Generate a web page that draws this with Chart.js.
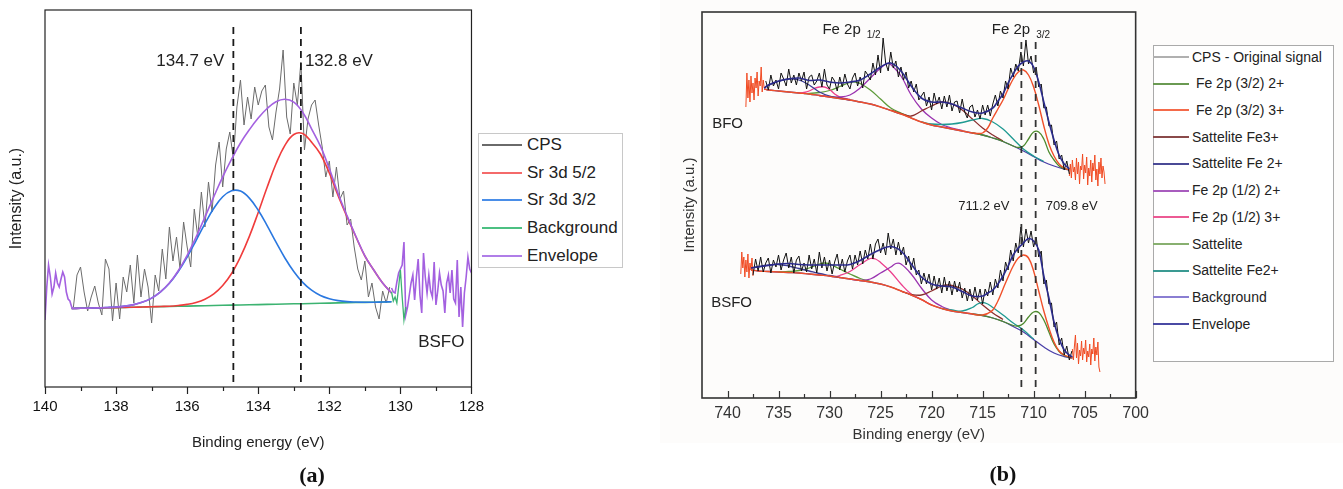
<!DOCTYPE html>
<html>
<head>
<meta charset="utf-8">
<script src="https://cdn.jsdelivr.net/npm/chart.js@4.4.1/dist/chart.umd.min.js"></script>
<style>
  body { margin: 0; background: #fff; font-family: 'Liberation Sans', Arial, sans-serif; }
  #page { position: relative; width: 1343px; height: 489px; overflow: hidden; background: #fff; }
  #tint { position: absolute; left: 660px; top: 0; width: 683px; height: 443px; background: #fdfcfb; }
  canvas { position: absolute; top: 0; }
  .legend { position: absolute; box-sizing: border-box; background: #fff; }
  .legend .sw { position: absolute; height: 2px; }
  .legend .tx { position: absolute; white-space: pre; color: #222; }
  .caption { position: absolute; width: 60px; text-align: center; font-family: 'Liberation Serif', 'DejaVu Serif', serif; font-weight: bold; font-size: 22px; color: #111; }
</style>
</head>
<body>
<div id="page">
  <div id="tint"></div>
  <canvas id="chartA" width="495" height="489" style="left:0"></canvas>
  <canvas id="chartB" width="485" height="489" style="left:670px"></canvas>
  <div id="legendA" class="legend" style="left:478px; top:133px; width:145px; height:135px; border:1px solid #c8c8c8;"></div>
  <div id="legendB" class="legend" style="left:1153px; top:45px; width:181px; height:317px; border:1px solid #aaa;"></div>
  <div class="caption" style="left:282px; top:462px;">(a)</div>
  <div class="caption" style="left:973px; top:461px;">(b)</div>
</div>
<script>
// ---------- panel (a): Sr 3d, BSFO ----------
const aTicks = [140, 138, 136, 134, 132, 130, 128];
const aMinor = [139, 137, 135, 133, 131, 129];
const aGrid = [139.25, 139, 138.75, 138.5, 138.25, 138, 137.75, 137.5, 137.25, 137, 136.75, 136.5, 136.25,
  136, 135.75, 135.5, 135.25, 135, 134.75, 134.5, 134.25, 134, 133.75, 133.5, 133.25, 133, 132.75, 132.5,
  132.25, 132, 131.75, 131.5, 131.25, 131, 130.75, 130.5, 130.25];
const aBackground = [78.5, 78.7, 78.9, 79.1, 79.2, 79.4, 79.6, 79.8, 80.0, 80.2, 80.4, 80.5, 80.7, 80.9, 81.1,
  81.3, 81.5, 81.7, 81.9, 82.0, 82.2, 82.4, 82.6, 82.8, 83.0, 83.2, 83.3, 83.5, 83.7, 83.9, 84.1, 84.3, 84.5,
  84.6, 84.8, 85.0, 85.2];
const aSr52 = [78.5, 78.7, 78.9, 79.1, 79.2, 79.4, 79.6, 79.8, 80.0, 80.2, 80.5, 80.8, 81.5, 82.6, 84.5, 87.8,
  93.1, 101.5, 113.5, 130.1, 150.6, 174.6, 199.7, 223.2, 241.7, 252.5, 253.4, 244.9, 233, 214, 191, 170, 150,
  131, 117, 104, 94];
const aSr32 = [78.5, 78.7, 78.9, 79.1, 79.5, 80.0, 80.9, 82.4, 84.9, 88.9, 95.1, 103.7, 115.5, 130.0, 146.4,
  163.4, 178.7, 190.3, 196.3, 195.9, 188.9, 176.8, 161.4, 144.8, 129.0, 115.5, 104.6, 96.8, 91.5, 88.3, 86.4,
  85.4, 85.0, 84.8, 84.8, 85.0, 85.2];
const aEnvelope = [78.5, 78.7, 78.9, 79.1, 79.5, 80.0, 80.9, 82.4, 84.9, 88.9, 95.2, 104.0, 116.3, 131.7, 149.8,
  169.9, 190.3, 210.1, 227.9, 244.0, 257.3, 269.0, 278.5, 285.2, 287.7, 284.8, 274.7, 258.2, 240.8, 218.4,
  193.3, 171.1, 150.5, 131.2, 117, 104, 94];
// raw counts, 139.2 -> 130.3 eV every 0.1 eV
const aCps = [80, 112, 120, 95, 76, 90, 101, 84, 72, 128, 118, 66, 104, 68, 110, 95, 122, 84, 132, 90,
  118, 100, 64, 112, 96, 138, 108, 160, 126, 150, 118, 165, 140, 120, 178, 150, 195, 160, 205, 175,
  222, 245, 200, 238, 255, 228, 280, 307, 262, 290, 268, 300, 282, 296, 302, 260, 247, 275, 298, 337,
  270, 253, 304, 282, 325, 237, 268, 282, 287, 262, 240, 210, 226, 190, 220, 188, 196, 162, 168, 140,
  118, 107, 126, 90, 104, 80, 68, 96, 84, 100];
// signal outside the fit window, every 0.05 eV
const aEdgeLeft = [67, 100, 122, 110, 93, 100, 114, 104, 100, 108, 115, 110, 95, 88, 86, 80, 78];   // 140.00 -> 139.20
const aEdgeRight = [99, 95, 94, 105, 114, 118, 122, 145, 72, 80, 92, 104, 112, 87, 110, 128, 92, 74, 134, 110,
  94, 112, 96, 90, 125, 82, 96, 114, 102, 96, 74, 104, 112, 94, 117, 88, 84, 127, 70, 100,
  60, 94, 110, 130, 118, 114];                                                                   // 130.25 -> 128.00
const aBgTail = [95, 86, 90, 84, 100, 117, 90, 67, 80];                                          // 130.25 -> 129.85
const aPeaks = [134.7, 132.8];

// ---------- panel (b): Fe 2p, BFO and BSFO ----------
const bTicks = [740, 735, 730, 725, 720, 715, 710, 705, 700];
const bMinor = [737.5, 732.5, 727.5, 722.5, 717.5, 712.5, 707.5, 702.5];
const bPeaks = [711.2, 709.8];

const bfoBackground = [[736.4,309],[736,308],[735,307],[734,306],[733,305],[732,304],[731,302.5],[730,301],
  [729,299.5],[728,298],[727,296],[726,294],[725,291],[724,287.5],[723,284],[722,280],[721,276],[720,273],
  [719,271],[718,269],[717,267],[716,265],[715,263],[714,260],[713,256.5],[712,252],[711,247],[710,241.5],
  [709,236],[708,232],[707,229],[706.5,228]];
const bfoFe32_3 = [[736.4,309],[736,308],[735,307],[734,306],[733,305],[732,304],[731,302.5],[730,301],
  [729,299.5],[728,298],[727,296],[726,294],[725,291],[724,287.5],[723,284],[722,280],[721,276],[720,273],
  [719,271],[718,269],[717,267],[716,265],[715.5,264.5],[715,265],[714.5,270],[714,280],[713.5,289],[713,298],
  [712.5,309],[712,319],[711.5,326],[711,328],[710.5,323],[710,311],[709.5,293],[709,272],[708.5,254],
  [708,242],[707.5,234],[707,230],[706.5,228]];
const bfoFe32_2 = [[716,265],[715,263],[714,260],[713,256.5],[712,252],[711.5,250.5],[711,252],[710.5,259],
  [710,266],[709.5,266],[709,259],[708.5,246],[708,238],[707.5,232],[707,229.5],[706.5,228]];
const bfoSatFe3 = [[724,288],[723,284.5],[722,282],[721,287],[720,292],[719,296],[718,294],[717,288],
  [716,279],[715,270],[714,263],[713,257]];
const bfoSatFe2s = [[736.4,310],[736,312.5],[735,316.5],[734,319],[733,318],[732,313],[731,306],[730,302],
  [729,300],[728,298]];
const bfoFe12_2 = [[731,302.5],[730,301.5],[729,301],[728,303],[727,310],[726,320],[725,330],[724.3,334.5],
  [724,333.5],[723,322],[722,303],[721,289],[720,280],[719,273.5],[718,270],[717,267.5]];
const bfoFe12_3 = [[733,305],[732.5,305.5],[732,307],[731.5,309.5],[731,311],[730.5,311],[730,308.5],
  [729.5,304],[729,301],[728,298.5]];
const bfoSat = [[732.5,304.5],[732,304.5],[731,305.5],[730,307.5],[729,311.5],[728,315.5],[727.5,316],
  [727,314.5],[726,308],[725,299],[724,290],[723,285],[722,280.5]];
const bfoSatFe2 = [[721,276],[720,274],[719,273.5],[718,274],[717,275.5],[716,278],[715,279.5],[714,276],
  [713,269],[712,259],[711,249],[710,242],[709,236.5]];
const bfoEnvelope = [[736.4,310],[736,313],[735,317],[734,319],[733,320],[732,317.5],[731,318],[730,316],
  [729,315],[728,316],[727,318],[726,324],[725,331],[724,335],[723,327],[722,312],[721,300],[720,296],
  [719,296],[718,294],[717,290],[716,286],[715,285],[714,290],[713.5,297],[713,304],[712.5,315],[712,324],
  [711.5,332],[711,336],[710.5,337],[710,331],[709.5,316],[709,296],[708.5,276],[708,258],[707.5,243],
  [707,234],[706.5,229]];
// 736.25 -> 706.50 every 0.25 eV
const bfoCps = [317, 308, 323, 312, 318, 309, 325, 319, 312, 329, 315, 323, 313, 325,
  317, 326, 309, 321, 323, 313, 317, 325, 311, 329, 313, 309, 321, 317,
  307, 321, 311, 324, 314, 309, 320, 325, 312, 321, 310, 327, 323, 318,
  335, 323, 343, 325, 360, 335, 327, 346, 330, 337, 321, 331, 318, 326,
  310, 317, 306, 314, 298, 302, 306, 292, 301, 288, 305, 294, 301, 289,
  302, 291, 303, 287, 296, 297, 285, 299, 286, 280, 291, 293, 281, 288,
  279, 293, 283, 293, 282, 294, 303, 292, 307, 300, 317, 309, 330, 321,
  334, 327, 346, 332, 358, 334, 342, 325, 331, 311, 314, 290, 291, 272,
  273, 253, 257, 239, 243, 228, 237, 224];
const bfoEdgeLeft = [291, 325, 300, 318, 296, 322, 305, 315, 298, 320, 310, 326, 302, 317, 312, 331, 306, 318, 310]; // 738.2 -> 736.4
const bfoEdgeRight = [222, 234, 220, 238, 226, 231, 218, 240, 224, 236, 214, 232, 228, 244, 219, 233, 225, 241,
  213, 230, 222, 238, 216, 235, 227, 243, 218, 229, 212, 236, 224, 240, 220, 232, 226, 214];             // 706.5 -> 703.0

const bsfoBackground = [[737.7,128],[737,127],[736,126.5],[735,126],[734,125.5],[733,125],[732,124],[731,123],
  [730,122],[729,120.5],[728,119],[727,117.5],[726,116],[725,114],[724,111],[723,107],[722,103],[721,98.5],
  [720,93],[719,89.5],[718,87],[717,85.5],[716,84],[715,82.5],[714,80],[713,76.5],[712,71.5],[711,66],
  [710,58.5],[709,51],[708,45],[707,41.5],[706.2,40]];
const bsfoFe32_3 = [[737.7,128],[737,127],[736,126.5],[735,126],[734,125.5],[733,125],[732,124],[731,123],
  [730,122],[729,120.5],[728,119],[727,117.5],[726,116],[725,114],[724,111],[723,107],[722,103],[721,98.5],
  [720,93],[719,89.5],[718,87],[717,85.5],[716,84],[715.5,83],[715,83],[714.5,84.5],[714,88],[713.5,97],
  [713,109],[712.5,121],[712,132],[711.5,140],[711,143],[710.5,140],[710,127],[709.5,107],[709,87],
  [708.5,70],[708,56],[707.5,47],[707,43],[706.5,41],[706.2,40]];
const bsfoFe32_2 = [[716,84],[715,82.5],[714,80],[713,76.5],[712,72.5],[711.5,72],[711,74.5],[710.5,81],
  [710,86],[709.5,85.5],[709,78],[708.5,66],[708,54],[707.5,46.5],[707,42.5],[706.2,40]];
const bsfoSatFe3 = [[723,107],[722.5,105],[722,103.5],[721,103],[720,107],[719,112],[718.5,113],[718,112.5],
  [717,109],[716,102],[715,93],[714,85],[713,78.5]];
const bsfoSatFe2s = [[737.7,130],[737,131.5],[736,133],[735,133.5],[734,132],[733,129.5],[732,127],
  [731,124.5],[730,122.5],[729,120.5]];
const bsfoFe12_2 = [[728,119],[727,117.5],[726,119],[725,125],[724,131],[723.5,134.5],[723,134],[722,124],
  [721,110],[720,98],[719,91.5],[718,87.5]];
const bsfoFe12_3 = [[730,122],[729.5,121.5],[729,122.5],[728,126.5],[727,133.5],[726,139.5],[725.5,139],
  [725,135.5],[724,126],[723,114],[722,104],[721,98.5],[720,93]];
const bsfoSat = [[735,126],[734,126.5],[733,127.5],[732,130],[731,134],[730.5,135],[730,134],[729,129],
  [728,124],[727,119.5],[726,116.5]];
const bsfoSatFe2 = [[719,89.5],[718,88],[717,87],[716,90.5],[715.5,94],[715,95.5],[714.5,94],[714,90.5],
  [713,83],[712,75],[711,68],[710,59]];
const bsfoEnvelope = [[737.7,130],[737,131],[736,132.5],[735,134],[734,134.5],[733,133.5],[732,133],[731,133],
  [730,133],[729,133],[728,133.5],[727,137.5],[726,143.5],[725,148.5],[724,151.5],[723,147],[722,134],
  [721,121],[720,114],[719,112],[718,111],[717,106.5],[716,102],[715,102],[714.5,105],[714,108],[713.5,114],
  [713,122],[712.5,132],[712,143],[711.5,150],[711,155],[710.5,159.5],[710,157],[709.5,148],[709,122],
  [708.5,100],[708,76],[707.5,59],[707,48],[706.5,43],[706.2,41]];
// 737.50 -> 706.25 every 0.25 eV
const bsfoCps = [123, 139, 127, 141, 126, 135, 140, 125, 138, 131, 143, 128, 138, 145,
  130, 141, 125, 138, 142, 127, 135, 126, 143, 129, 139, 125, 146, 130,
  141, 127, 138, 124, 136, 144, 128, 139, 126, 137, 143, 129, 143, 133,
  147, 134, 148, 139, 154, 139, 154, 159, 145, 155, 143, 165, 149, 159,
  143, 156, 143, 151, 133, 142, 128, 140, 123, 128, 114, 125, 114, 124,
  108, 122, 109, 120, 105, 121, 107, 117, 103, 117, 106, 116, 100, 110,
  97, 109, 97, 111, 98, 109, 94, 109, 102, 116, 103, 119, 110, 128,
  117, 136, 128, 148, 137, 155, 145, 171, 151, 169, 155, 167, 151, 161,
  141, 147, 114, 118, 94, 95, 71, 76, 53, 60, 43, 52, 38, 47];
const bsfoEdgeLeft = [124, 146, 130, 141, 121, 138, 126, 144, 120, 135, 128, 140, 122];          // 738.7 -> 737.5
const bsfoEdgeRight = [49, 38, 52, 63, 40, 55, 34, 48, 42, 57, 38, 50, 44, 58, 36, 47, 41, 54, 33, 49,
  44, 60, 37, 51, 43, 56, 31, 26];                                                            // 706.2 -> 703.5

const legendNamesA = ['CPS', 'Sr 3d 5/2', 'Sr 3d 3/2', 'Background', 'Envelope'];
const legendColorsA = ['#6a6a6a', '#f46a6a', '#4a8ee8', '#4cc082', '#b07ee8'];
const legendNamesB = ['CPS - Original signal', ' Fe 2p (3/2) 2+', ' Fe 2p (3/2) 3+', 'Sattelite Fe3+',
  'Sattelite Fe 2+', 'Fe 2p (1/2) 2+', 'Fe 2p (1/2) 3+', 'Sattelite', 'Sattelite Fe2+', 'Background', 'Envelope'];
const legendColorsB = ['#b0b0b0', '#6a9a52', '#f46a4a', '#8a4a4a', '#4a4a96', '#a85cbe', '#ec5a94',
  '#88b070', '#3a9a92', '#8a7ed2', '#4a4aa4'];

// ---------- helpers ----------
const pts = pairs => pairs.map(([x, y]) => ({ x, y }));
const zip = (xs, ys) => xs.map((x, i) => ({ x, y: ys[i] }));
const run = (start, step, vals) => vals.map((y, i) => ({ x: +(start - step * i).toFixed(3), y }));
const vline = (x, y0, y1) => [{ x, y: y0 }, { x, y: y1 }];
const line = (data, color, width, extra) =>
  Object.assign({ data, borderColor: color, borderWidth: width, pointRadius: 0, fill: false, tension: 0 }, extra);

Chart.defaults.font.family = "'Liberation Sans', Arial, sans-serif";
Chart.defaults.color = '#222';

// frame, tick marks and text notes
const decor = {
  id: 'decor',
  afterDatasetsDraw(chart, args, o) {
    const { ctx, chartArea: a, scales: { x, y } } = chart;
    ctx.save();
    ctx.strokeStyle = o.frameColor;
    ctx.lineWidth = o.frameWidth;
    ctx.strokeRect(a.left, a.top, a.right - a.left, a.bottom - a.top);
    ctx.lineWidth = 1.2;
    const dir = o.inward ? -1 : 1;
    const mark = (v, len) => {
      const px = Math.round(x.getPixelForValue(v)) + 0.5;
      ctx.beginPath();
      ctx.moveTo(px, a.bottom);
      ctx.lineTo(px, a.bottom + dir * len);
      ctx.stroke();
    };
    x.ticks.forEach(t => mark(t.value, o.major));
    o.minorTicks.forEach(v => mark(v, o.minor));
    ctx.fillStyle = '#222';
    ctx.textBaseline = 'middle';
    o.labels.forEach(l => {
      const px = x.getPixelForValue(l.x) + (l.dx || 0);
      const py = y.getPixelForValue(l.y);
      ctx.font = l.size + "px 'Liberation Sans', Arial, sans-serif";
      ctx.textAlign = l.align;
      ctx.fillText(l.text, px, py);
      if (l.sub) {
        const w = ctx.measureText(l.text).width;
        ctx.font = (l.size - 5) + "px 'Liberation Sans', Arial, sans-serif";
        ctx.textAlign = 'left';
        ctx.fillText(l.sub, px + w + 6, py + 5);
      }
    });
    ctx.restore();
  }
};

// ---------- chart (a) ----------
const dashA = { borderDash: [7, 5] };
new Chart(document.getElementById('chartA'), {
  type: 'line',
  data: {
    datasets: [
      line(vline(aPeaks[0], 5, 365), '#1a1a1a', 1.8, dashA),
      line(vline(aPeaks[1], 5, 364), '#1a1a1a', 1.8, dashA),
      line(run(130.25, 0.05, aBgTail), '#3cb371', 1.3),
      line(zip(aGrid, aEnvelope), '#a461e0', 1.6, { tension: 0.4 }),
      line(run(140, 0.05, aEdgeLeft), '#a461e0', 1.6),
      line(run(130.25, 0.05, aEdgeRight), '#a461e0', 1.6),
      line(zip(aGrid, aSr32), '#2a78e0', 1.6, { tension: 0.4 }),
      line(zip(aGrid, aSr52), '#f03c3c', 1.6, { tension: 0.4 }),
      line(zip(aGrid, aBackground), '#3cb371', 1.6),
      line(run(139.2, 0.1, aCps), '#6b6b6b', 1)
    ]
  },
  options: {
    animation: false,
    responsive: false,
    layout: { padding: { left: 0, top: 10, right: 22, bottom: 0 } },
    plugins: {
      legend: { display: false },
      tooltip: { enabled: false },
      decor: {
        frameColor: '#222', frameWidth: 1.2, inward: false, major: 7, minor: 4, minorTicks: aMinor,
        labels: [
          { text: '134.7 eV', x: aPeaks[0], dx: -9, y: 326, align: 'right', size: 17 },
          { text: '132.8 eV', x: aPeaks[1], dx: 4, y: 326, align: 'left', size: 17 },
          { text: 'BSFO', x: 129.5, y: 45, align: 'left', size: 17 }
        ]
      }
    },
    scales: {
      x: {
        type: 'linear', reverse: true, min: 128, max: 140,
        grid: { display: false, drawTicks: false }, border: { display: false },
        afterBuildTicks: s => { s.ticks = aTicks.map(v => ({ value: v })); },
        ticks: { padding: 11, autoSkip: false, maxRotation: 0, font: { size: 15 }, color: '#111' },
        title: { display: true, text: 'Binding energy (eV)', font: { size: 15 }, padding: { top: 0, bottom: 37 } },
        afterFit: s => { s.height = 102; }
      },
      y: {
        min: 0, max: 377,
        ticks: { display: false },
        grid: { display: false, drawTicks: false }, border: { display: false },
        title: { display: true, text: 'Intensity (a.u.)', font: { size: 16 }, padding: { top: 7, bottom: 0 } },
        afterFit: s => { s.width = 45; }
      }
    }
  },
  plugins: [decor]
});

// ---------- chart (b) ----------
const smooth = { tension: 0.4 };
const spectrum = (env, cps, edgeL, edgeR, cpsStart, edgeLStart, edgeRStart, comps) => [
  line(pts(env), '#2b2b8c', 1.6, smooth),
  line(run(cpsStart, 0.25, cps), '#111', 1),
  line(run(edgeLStart, 0.1, edgeL), '#f04a22', 1),
  line(run(edgeRStart, 0.1, edgeR), '#f04a22', 1),
  line(pts(comps.fe32_3), '#f0502a', 1.4, smooth),
  line(pts(comps.fe32_2), '#4d8a2e', 1.3, smooth),
  line(pts(comps.satFe2), '#1f9a92', 1.3, smooth),
  line(pts(comps.satFe3), '#8b2e2e', 1.3, smooth),
  line(pts(comps.satFe2s), '#3b3b96', 1.3, smooth),
  line(pts(comps.fe12_2), '#9a33b0', 1.3, smooth),
  line(pts(comps.fe12_3), '#ec3f8c', 1.3, smooth),
  line(pts(comps.sat), '#5d9b3a', 1.3, smooth),
  line(pts(comps.background), '#4a3fa8', 1.3, smooth)
];
const dashB = { borderDash: [7, 6] };
new Chart(document.getElementById('chartB'), {
  type: 'line',
  data: {
    datasets: [
      line(vline(bPeaks[0], 11, 360), '#333', 1.8, dashB),
      line(vline(bPeaks[1], 11, 360), '#333', 1.8, dashB),
      ...spectrum(bfoEnvelope, bfoCps, bfoEdgeLeft, bfoEdgeRight, 736.25, 738.2, 706.5, {
        fe32_3: bfoFe32_3, fe32_2: bfoFe32_2, satFe2: bfoSatFe2, satFe3: bfoSatFe3, satFe2s: bfoSatFe2s,
        fe12_2: bfoFe12_2, fe12_3: bfoFe12_3, sat: bfoSat, background: bfoBackground }),
      ...spectrum(bsfoEnvelope, bsfoCps, bsfoEdgeLeft, bsfoEdgeRight, 737.5, 738.7, 706.2, {
        fe32_3: bsfoFe32_3, fe32_2: bsfoFe32_2, satFe2: bsfoSatFe2, satFe3: bsfoSatFe3, satFe2s: bsfoSatFe2s,
        fe12_2: bsfoFe12_2, fe12_3: bsfoFe12_3, sat: bsfoSat, background: bsfoBackground })
    ]
  },
  options: {
    animation: false,
    responsive: false,
    layout: { padding: { left: 0, top: 12, right: 18, bottom: 0 } },
    plugins: {
      legend: { display: false },
      tooltip: { enabled: false },
      decor: {
        frameColor: '#333', frameWidth: 1.6, inward: true, major: 7, minor: 4, minorTicks: bMinor,
        labels: [
          { text: 'Fe 2p', x: 730.7, y: 368, align: 'left', size: 15, sub: '1/2' },
          { text: 'Fe 2p', x: 714.1, y: 368, align: 'left', size: 15, sub: '3/2' },
          { text: 'BFO', x: 741.5, y: 274, align: 'left', size: 15 },
          { text: 'BSFO', x: 741.6, y: 95, align: 'left', size: 15 },
          { text: '711.2 eV', x: bPeaks[0], dx: -12, y: 192, align: 'right', size: 13 },
          { text: '709.8 eV', x: bPeaks[1], dx: 10, y: 192, align: 'left', size: 13 }
        ]
      }
    },
    scales: {
      x: {
        type: 'linear', reverse: true, min: 700, max: 742.5,
        grid: { display: false, drawTicks: false }, border: { display: false },
        afterBuildTicks: s => { s.ticks = bTicks.map(v => ({ value: v })); },
        ticks: { padding: 6, autoSkip: false, maxRotation: 0, font: { size: 16 }, color: '#333' },
        title: { display: true, text: 'Binding energy (eV)', font: { size: 15 }, color: '#333', padding: { top: 0, bottom: 45 } },
        afterFit: s => { s.height = 91; }
      },
      y: {
        min: 0, max: 386,
        ticks: { display: false },
        grid: { display: false, drawTicks: false }, border: { display: false },
        title: { display: true, text: 'Intensity (a.u.)', font: { size: 15 }, color: '#333', padding: { top: 11, bottom: 0 } },
        afterFit: s => { s.width = 32; }
      }
    }
  },
  plugins: [decor]
});

// ---------- legends ----------
function buildLegend(el, names, colors, cfg) {
  names.forEach((name, i) => {
    const c = cfg.first + i * cfg.step;
    const sw = document.createElement('div');
    sw.className = 'sw';
    sw.style.left = cfg.swLeft + 'px';
    sw.style.top = (c - 1) + 'px';
    sw.style.width = cfg.swWidth + 'px';
    sw.style.background = colors[i];
    const tx = document.createElement('div');
    tx.className = 'tx';
    tx.style.left = cfg.txLeft + 'px';
    tx.style.top = (c - cfg.size * 0.6) + 'px';
    tx.style.fontSize = cfg.size + 'px';
    tx.style.lineHeight = (cfg.size * 1.2) + 'px';
    tx.textContent = name;
    el.appendChild(sw);
    el.appendChild(tx);
  });
}
buildLegend(document.getElementById('legendA'), legendNamesA, legendColorsA,
  { first: 11, step: 27.7, swLeft: 3, swWidth: 40, txLeft: 48, size: 17 });
buildLegend(document.getElementById('legendB'), legendNamesB, legendColorsB,
  { first: 11, step: 26.7, swLeft: -1, swWidth: 36, txLeft: 38, size: 14 });
</script>
</body>
</html>
